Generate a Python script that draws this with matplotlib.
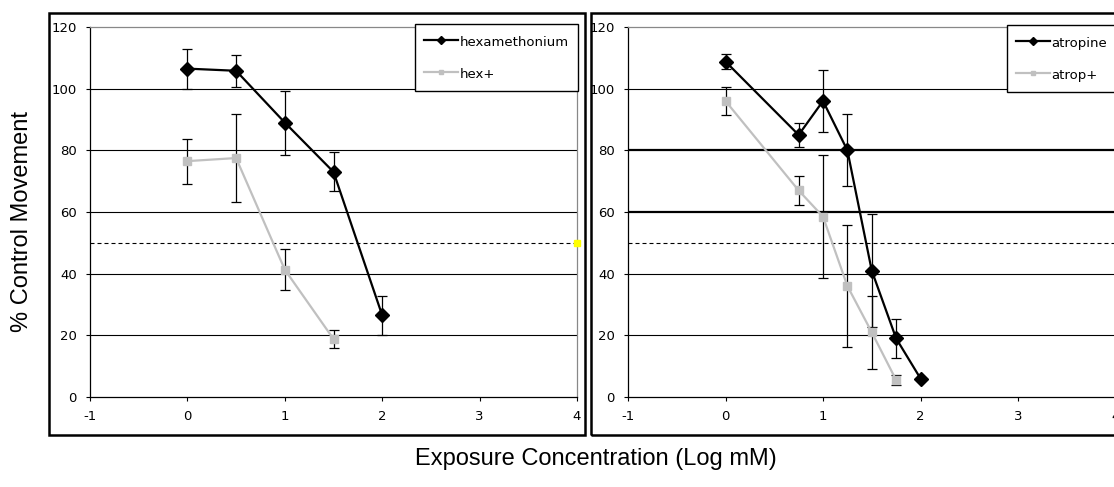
import matplotlib
matplotlib.use("Agg")
import matplotlib.pyplot as plt
from matplotlib.patches import Rectangle

# ---- data ----
hex_x = [0, 0.5, 1, 1.5, 2]
hex_y = [106.5, 105.8, 89, 73, 26.5]
hex_err = [6.5, 5.2, 10.4, 6.3, 6.4]

hexp_x = [0, 0.5, 1, 1.5]
hexp_y = [76.5, 77.5, 41.3, 18.8]
hexp_err = [7.3, 14.2, 6.6, 2.9]

atr_x = [0, 0.75, 1, 1.25, 1.5, 1.75, 2]
atr_y = [108.8, 85, 96, 80, 41, 19, 6]
atr_err = [2.5, 3.9, 10.2, 11.7, 18.4, 6.2, 0]

atrp_x = [0, 0.75, 1, 1.25, 1.5, 1.75]
atrp_y = [96, 67, 58.5, 36, 21, 5.5]
atrp_err = [4.6, 4.6, 20, 19.7, 11.8, 1.5]

ref_x = [4]
ref_y = [50]

x_ticks = [-1, 0, 1, 2, 3, 4]
y_ticks = [0, 20, 40, 60, 80, 100, 120]

W, H = 1114, 487
fig = plt.figure(figsize=(W / 100, H / 100), dpi=100)
fig.patch.set_facecolor("white")

# outer chart boxes
fig.patches.append(Rectangle((49 / W, 1 - 435 / H), (585 - 49) / W, (435 - 13) / H,
                             fill=False, lw=1.8, ec="black", transform=fig.transFigure))
fig.patches.append(Rectangle((591 / W, 1 - 435 / H), (1130 - 591) / W, (435 - 13) / H,
                             fill=False, lw=1.8, ec="black", transform=fig.transFigure))

ax1 = fig.add_axes([90 / W, 1 - 397 / H, 487 / W, 370 / H])
ax2 = fig.add_axes([628 / W, 1 - 397 / H, 487.5 / W, 370 / H])


def style(ax, thick=()):
    ax.set_xlim(-1, 4)
    ax.set_ylim(0, 120)
    ax.set_xticks(x_ticks)
    ax.set_yticks(y_ticks)
    ax.set_xticklabels([str(t) for t in x_ticks])
    ax.set_yticklabels([str(t) for t in y_ticks])
    for v in y_ticks[1:-1]:
        ax.axhline(v, color="black", lw=1.6 if v in thick else 0.8, zorder=1)
    ax.axhline(50, color="black", lw=0.8, ls=(0, (3.6, 2.7)), zorder=1)
    for s in ("top", "right"):
        ax.spines[s].set_color("#888888")
        ax.spines[s].set_linewidth(0.9)
    for s in ("left", "bottom"):
        ax.spines[s].set_color("black")
        ax.spines[s].set_linewidth(0.9)
    ax.tick_params(axis="both", direction="out", length=3, width=0.8,
                   labelsize=9.5, colors="black")
    ax.tick_params(axis="y", pad=6.5)
    ax.tick_params(axis="x", pad=6)


def draw(ax, x, y, e, x2, y2, e2, lab1, lab2):
    ax.errorbar(x2, y2, yerr=e2, fmt="none", ecolor="black", elinewidth=0.9,
                capsize=3.5, capthick=0.9, zorder=2)
    ax.errorbar(x, y, yerr=e, fmt="none", ecolor="black", elinewidth=0.9,
                capsize=3.5, capthick=0.9, zorder=2)
    l2, = ax.plot(x2, y2, color="#c0c0c0", lw=1.6, marker="s", ms=5.5,
                  mfc="#c0c0c0", mec="#c0c0c0", zorder=3, label=lab2)
    l1, = ax.plot(x, y, color="black", lw=1.6, marker="D", ms=7.5,
                  mfc="black", mec="black", zorder=4, label=lab1)
    return l1, l2


style(ax1)
h1 = draw(ax1, hex_x, hex_y, hex_err, hexp_x, hexp_y, hexp_err, "hexamethonium", "hex+")
ax1.plot(ref_x, ref_y, ls="none", marker="s", ms=4, color="#ffff00", clip_on=False, zorder=5)

style(ax2, thick=(60, 80))
h2 = draw(ax2, atr_x, atr_y, atr_err, atrp_x, atrp_y, atrp_err, "atropine", "atrop+")

legkw = dict(loc="upper left", fontsize=9.5, frameon=True, fancybox=False,
             edgecolor="black", framealpha=1, borderaxespad=0, borderpad=0.7,
             handlelength=2.55, handleheight=1.6, handletextpad=0.15,
             labelspacing=1.13, markerscale=0.55)
lg1 = ax1.legend(handles=list(h1), bbox_to_anchor=(0.667, 1.008), **legkw)
lg1.get_frame().set_linewidth(1.0)
lg2 = ax2.legend(handles=list(h2), bbox_to_anchor=(0.777, 1.005), **legkw)
lg2.get_frame().set_linewidth(1.0)

fig.text(596 / W, 1 - 465 / H, "Exposure Concentration (Log mM)", ha="center",
         va="baseline", fontsize=17, family=["Liberation Sans", "DejaVu Sans"])
fig.text(22 / W, 1 - 222 / H, "% Control Movement", ha="center", va="center",
         rotation=90, fontsize=17, family=["Liberation Sans", "DejaVu Sans"])

fig.savefig("out.png", dpi=100, facecolor="white")
